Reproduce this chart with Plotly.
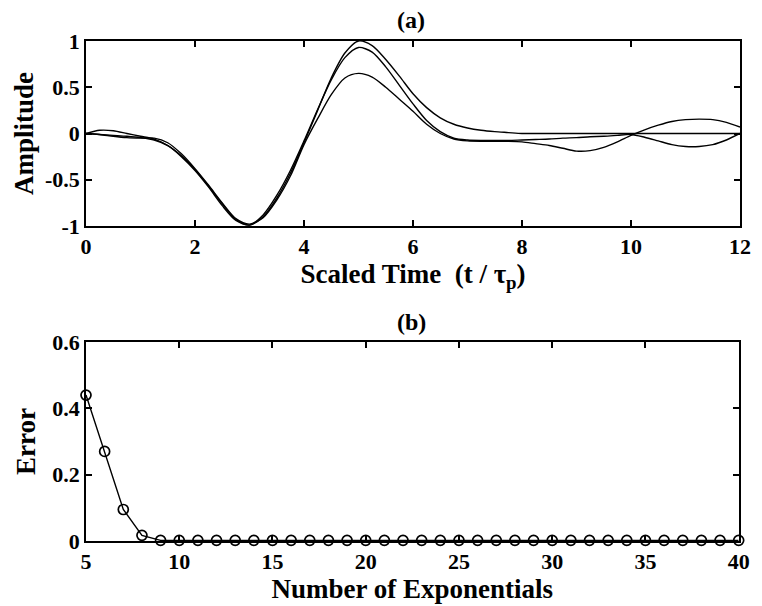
import plotly.graph_objects as go

# ---- panel (a): pulse and its exponential-sum approximations ----
scaled_time = [0, 0.25, 0.5, 0.75, 1, 1.25, 1.5, 1.75, 2, 2.25, 2.5, 2.75,
               3, 3.25, 3.5, 3.75, 4, 4.25, 4.5, 4.75, 5, 5.25, 5.5, 5.75,
               6, 6.25, 6.5, 6.75, 7, 7.25, 7.5, 7.75, 8, 8.25, 8.5, 8.75,
               9, 9.25, 9.5, 9.75, 10, 10.25, 10.5, 10.75, 11, 11.25, 11.5, 11.75, 12]

pulse = [0.00, -0.01, -0.02, -0.03, -0.045, -0.07, -0.13, -0.24, -0.39, -0.57, -0.76, -0.93,
         -0.99, -0.90, -0.70, -0.43, -0.10, 0.25, 0.60, 0.87, 1.00, 0.95, 0.80, 0.62,
         0.43, 0.28, 0.17, 0.10, 0.06, 0.035, 0.02, 0.01, 0.00, 0.00, 0.00, 0.00,
         0.00, 0.00, 0.00, 0.00, 0.00, 0.00, 0.00, 0.00, 0.00, 0.00, 0.00, 0.00, 0.00]

approx_mid = [0.00, 0.035, 0.03, 0.00, -0.03, -0.06, -0.13, -0.25, -0.40, -0.58, -0.78, -0.94,
              -0.99, -0.88, -0.67, -0.40, -0.08, 0.26, 0.58, 0.82, 0.93, 0.88, 0.72, 0.52,
              0.32, 0.14, 0.02, -0.05, -0.07, -0.075, -0.075, -0.075, -0.07, -0.065, -0.06, -0.05,
              -0.045, -0.035, -0.03, -0.02, -0.01, -0.04, -0.08, -0.12, -0.14, -0.14, -0.12, -0.07, 0.00]

approx_low = [0.00, -0.01, -0.03, -0.045, -0.05, -0.05, -0.10, -0.22, -0.38, -0.56, -0.75, -0.92,
              -0.98, -0.91, -0.72, -0.46, -0.12, 0.16, 0.42, 0.60, 0.65, 0.61, 0.50, 0.37,
              0.24, 0.10, 0.00, -0.06, -0.08, -0.085, -0.085, -0.085, -0.09, -0.11, -0.13, -0.16,
              -0.19, -0.185, -0.15, -0.09, -0.02, 0.04, 0.09, 0.13, 0.15, 0.155, 0.15, 0.12, 0.07]

# ---- panel (b): fit error versus number of exponentials ----
n_exponentials = [5, 6, 7, 8, 9, 10, 11, 12, 13, 14, 15, 16, 17, 18, 19, 20, 21, 22,
                  23, 24, 25, 26, 27, 28, 29, 30, 31, 32, 33, 34, 35, 36, 37, 38, 39, 40]
fit_error = [0.44, 0.27, 0.095, 0.017, 0.002, 0.002, 0.002, 0.002, 0.002, 0.002, 0.002, 0.002,
             0.002, 0.002, 0.002, 0.002, 0.002, 0.002, 0.002, 0.002, 0.002, 0.002, 0.002, 0.002,
             0.002, 0.002, 0.002, 0.002, 0.002, 0.002, 0.002, 0.002, 0.002, 0.002, 0.002, 0.002]

FONT = "Liberation Serif"
ink = "black"

fig = go.Figure()

for series in (pulse, approx_mid, approx_low):
    fig.add_trace(go.Scatter(
        x=scaled_time, y=series, mode="lines",
        line=dict(color=ink, width=1.4, shape="spline", smoothing=0.8),
        xaxis="x", yaxis="y", showlegend=False,
    ))

fig.add_trace(go.Scatter(
    x=n_exponentials, y=fit_error, mode="lines+markers",
    line=dict(color=ink, width=1.4),
    marker=dict(symbol="circle-open", size=10, color=ink, line=dict(width=1.7, color=ink)),
    cliponaxis=False, xaxis="x2", yaxis="y2", showlegend=False,
))

tick_font = dict(family=FONT, size=22, color=ink, weight="bold")
title_font = dict(family=FONT, size=27, color=ink, weight="bold")

common = dict(
    showline=True, linecolor=ink, linewidth=1.6, mirror="ticks",
    ticks="inside", ticklen=6, tickwidth=1.6, tickcolor=ink,
    showgrid=False, zeroline=False, tickfont=tick_font,
)

fig.update_layout(
    width=762, height=606,
    margin=dict(l=86, r=11, t=41, b=65),
    paper_bgcolor="white", plot_bgcolor="white",
    xaxis=dict(domain=[0, 1], anchor="y", range=[0, 12],
               tickvals=[0, 2, 4, 6, 8, 10, 12],
               title=dict(text="Scaled Time  (t / τ<sub>p</sub>)", font=title_font, standoff=2),
               **common),
    yaxis=dict(domain=[0.63, 1], anchor="x", range=[-1, 1],
               tickvals=[-1, -0.5, 0, 0.5, 1], ticktext=["-1", "-0.5", "0", "0.5", "1"],
               title=dict(text="Amplitude", font=title_font, standoff=4),
               **common),
    xaxis2=dict(domain=[0, 0.998], anchor="y2", range=[5, 40],
                tickvals=[5, 10, 15, 20, 25, 30, 35, 40],
                title=dict(text="Number of Exponentials", font=title_font, standoff=2),
                **common),
    yaxis2=dict(domain=[0, 0.398], anchor="x2", range=[0, 0.6],
                tickvals=[0, 0.2, 0.4, 0.6], ticktext=["0", "0.2", "0.4", "0.6"],
                title=dict(text="Error", font=title_font, standoff=9),
                **common),
    annotations=[
        dict(text="(a)", x=0.497, y=1.042, xref="paper", yref="paper",
             xanchor="center", yanchor="middle", showarrow=False,
             font=dict(family=FONT, size=24, color=ink, weight="bold")),
        dict(text="(b)", x=0.497, y=0.438, xref="paper", yref="paper",
             xanchor="center", yanchor="middle", showarrow=False,
             font=dict(family=FONT, size=24, color=ink, weight="bold")),
    ],
)

fig.write_html("out.html")
